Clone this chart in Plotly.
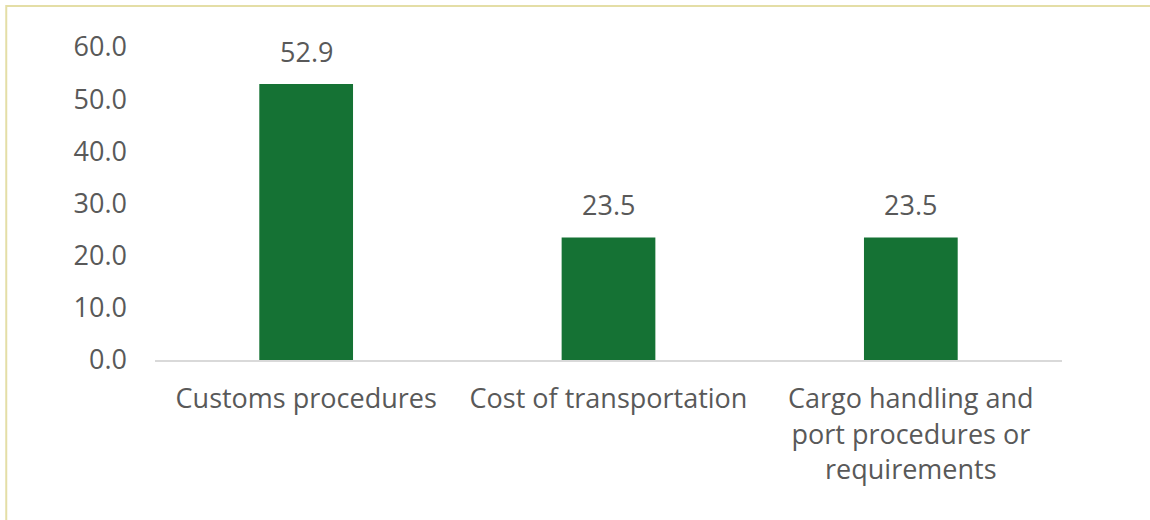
import plotly.graph_objects as go

categories = [
    "Customs procedures",
    "Cost of transportation",
    "Cargo handling and<br>port procedures or<br>requirements",
]
values = [52.9, 23.5, 23.5]
y_ticks = [0, 10, 20, 30, 40, 50, 60]

BAR_COLOR = "#157234"
TEXT_COLOR = "#595959"
FONT = "Open Sans"
FONT_SIZE = 27

fig = go.Figure(
    go.Bar(
        x=categories,
        y=values,
        marker=dict(color=BAR_COLOR, line=dict(width=0)),
        hoverinfo="skip",
    )
)

# value labels above each bar
for cat, val in zip(categories, values):
    fig.add_annotation(
        x=cat, y=val, text=f"{val:.1f}", showarrow=False,
        yanchor="bottom", yshift=12,
        font=dict(family=FONT, size=FONT_SIZE, color=TEXT_COLOR),
    )

# light frame around the chart area
fig.add_shape(
    type="rect", xref="paper", yref="paper",
    x0=-0.164, x1=1.2, y0=-0.8, y1=1.131,
    line=dict(color="#E4DEA6", width=2), fillcolor="rgba(0,0,0,0)",
    layer="below",
)

fig.update_layout(
    width=1150, height=520,
    margin=dict(l=155, r=88, t=47, b=160),
    paper_bgcolor="white", plot_bgcolor="white",
    bargap=0.69,
    showlegend=False,
    font=dict(family=FONT, size=FONT_SIZE, color=TEXT_COLOR),
)
fig.update_xaxes(
    showline=True, linecolor="#D9D9D9", linewidth=2,
    showgrid=False, ticks="", ticklabelstandoff=14,
    tickfont=dict(family=FONT, size=FONT_SIZE, color=TEXT_COLOR),
    fixedrange=True,
)
fig.update_yaxes(
    range=[0, 60], tickvals=y_ticks, tickformat=".1f",
    showgrid=False, zeroline=False, showline=False, ticks="",
    ticklabelstandoff=27,
    tickfont=dict(family=FONT, size=FONT_SIZE, color=TEXT_COLOR),
    fixedrange=True,
)

fig.write_html("out.html", config={"displayModeBar": False})
